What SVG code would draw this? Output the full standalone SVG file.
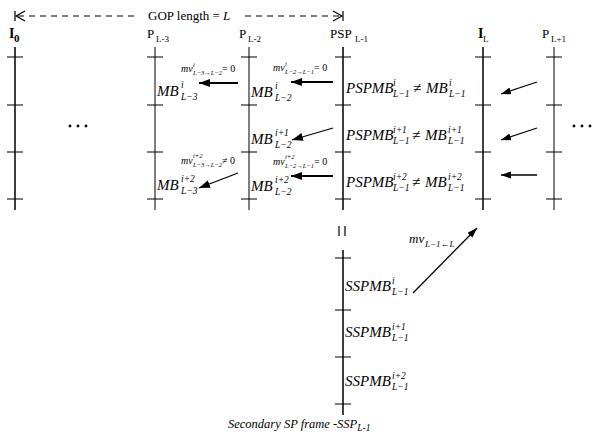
<svg xmlns="http://www.w3.org/2000/svg" width="604" height="439" viewBox="0 0 604 439" font-family="'Liberation Serif', 'DejaVu Serif', serif">
<style>
.bg{fill:#fff}
.fr{stroke:#000;stroke-width:1.5;fill:none}
.frg{stroke:#555;stroke-width:1.5;fill:none}
.tk{stroke:#000;stroke-width:1.2}
.ar{stroke:#000;stroke-width:2;fill:none}
.ad{stroke:#000;stroke-width:1.3;fill:none}
.dash{stroke:#000;stroke-width:1.2;stroke-dasharray:6 5;fill:none}
text{font-family:'Liberation Serif','DejaVu Serif',serif;fill:#000}
.hd{font-size:13px}
.hb{font-size:14px;font-weight:bold}
.hs{font-size:9px}
.m{font-size:15px;font-style:italic}
.s{font-size:9.5px;font-style:italic}
.r{font-size:15px}
.mv{font-size:10px;font-style:italic}
.ms{font-size:6.5px;font-style:italic}
.mr{font-size:10px}
.mvb{font-size:13px;font-style:italic}
.msb{font-size:9px;font-style:italic}
.cap{font-size:12.5px;font-style:italic}
.dot{fill:#000}
</style>
<defs>
<marker id="ah" markerUnits="userSpaceOnUse" markerWidth="12" markerHeight="10" refX="11" refY="4" orient="auto">
<path d="M0,0 L11,4 L0,8 Z" fill="#000"/>
</marker>
<marker id="ahs" markerUnits="userSpaceOnUse" markerWidth="11" markerHeight="8" refX="10" refY="3.5" orient="auto">
<path d="M0,0 L10,3.5 L0,7 Z" fill="#000"/>
</marker>
</defs>
<rect class="bg" x="0" y="0" width="604" height="439"/>

<g id="gop">
<line class="tk" x1="15" y1="11" x2="15" y2="21"/>
<path class="tk" fill="none" d="M25,11 L16,16 L25,21"/>
<line class="dash" x1="18" y1="16" x2="134" y2="16"/>
<text class="hd" x="148" y="20">GOP length = <tspan font-style="italic">L</tspan></text>
<line class="dash" x1="245" y1="16" x2="340" y2="16"/>
<path class="tk" fill="none" d="M333,11 L342,16 L333,21"/>
<line class="tk" x1="343" y1="11" x2="343" y2="21"/>
</g>

<g id="frame-I0">
<text class="hb" x="9" y="38">I</text><text class="hb" x="14" y="42" style="font-size:11px">0</text>
<line class="fr" x1="15" y1="47" x2="15" y2="210"/>
<path class="tk" d="M7,57H23M7,105H23M7,152H23M7,199H23"/>
</g>

<g id="dots-left">
<circle class="dot" cx="70" cy="126" r="1.4"/><circle class="dot" cx="78" cy="126" r="1.4"/><circle class="dot" cx="86" cy="126" r="1.4"/>
</g>

<g id="frame-PL3">
<text class="hd" x="147" y="38">P</text><text class="hs" x="156" y="42">L-3</text>
<line class="frg" x1="155" y1="47" x2="155" y2="210"/>
<path class="tk" d="M147,57H163M147,105H163M147,152H163M147,199H163"/>
<text class="m" x="157" y="96">MB</text><text class="s" x="181" y="88">i</text><text class="s" x="181" y="100">L−3</text>
<text class="m" x="157" y="190">MB</text><text class="s" x="181" y="182">i+2</text><text class="s" x="181" y="194">L−3</text>
</g>

<g id="frame-PL2">
<text class="hd" x="239" y="38">P</text><text class="hs" x="248" y="42">L-2</text>
<line class="frg" x1="249" y1="47" x2="249" y2="210"/>
<path class="tk" d="M241,57H257M241,105H257M241,152H257M241,199H257"/>
<text class="m" x="251" y="97">MB</text><text class="s" x="275" y="89">i</text><text class="s" x="275" y="101">L−2</text>
<text class="m" x="251" y="144">MB</text><text class="s" x="275" y="136">i+1</text><text class="s" x="275" y="148">L−2</text>
<text class="m" x="251" y="191">MB</text><text class="s" x="275" y="183">i+2</text><text class="s" x="275" y="195">L−2</text>
</g>

<g id="frame-PSP">
<text class="hd" x="330" y="38">PSP</text><text class="hs" x="355" y="42">L-1</text>
<line class="fr" x1="343" y1="47" x2="343" y2="210"/>
<path class="tk" d="M335,57H351M335,105H351M335,152H351M335,199H351"/>
<text class="m" x="346" y="93">PSPMB</text><text class="s" x="393" y="86">i</text><text class="s" x="393" y="97">L−1</text>
<text class="r" x="413" y="93">≠</text>
<text class="m" x="426" y="93">MB</text><text class="s" x="449" y="86">i</text><text class="s" x="449" y="97">L−1</text>
<text class="m" x="346" y="140">PSPMB</text><text class="s" x="393" y="133">i+1</text><text class="s" x="393" y="144">L−1</text>
<text class="r" x="412" y="140">≠</text>
<text class="m" x="425" y="140">MB</text><text class="s" x="448" y="133">i+1</text><text class="s" x="448" y="144">L−1</text>
<text class="m" x="346" y="187">PSPMB</text><text class="s" x="393" y="180">i+2</text><text class="s" x="393" y="191">L−1</text>
<text class="r" x="412" y="187">≠</text>
<text class="m" x="425" y="187">MB</text><text class="s" x="448" y="180">i+2</text><text class="s" x="448" y="191">L−1</text>
<path class="tk" d="M339,226V236M345,226V236"/>
</g>

<g id="frame-IL">
<text class="hb" x="478" y="38">I</text><text class="hs" x="483" y="42">L</text>
<line class="fr" x1="483" y1="47" x2="483" y2="210"/>
<path class="tk" d="M475,57H491M475,105H491M475,152H491M475,199H491"/>
</g>

<g id="frame-PL1">
<text class="hd" x="542" y="38">P</text><text class="hs" x="551" y="42">L+1</text>
<line class="frg" x1="554" y1="47" x2="554" y2="210"/>
<path class="tk" d="M546,57H562M546,105H562M546,152H562M546,199H562"/>
</g>

<g id="dots-right">
<circle class="dot" cx="574" cy="126" r="1.4"/><circle class="dot" cx="582" cy="126" r="1.4"/><circle class="dot" cx="590" cy="126" r="1.4"/>
</g>

<g id="frame-SSP">
<line class="fr" x1="343" y1="250" x2="343" y2="415"/>
<path class="tk" d="M335,258H351M335,310H351M335,357H351M335,404H351"/>
<text class="m" x="345" y="291">SSPMB</text><text class="s" x="392" y="284">i</text><text class="s" x="392" y="295">L−1</text>
<text class="m" x="345" y="337">SSPMB</text><text class="s" x="392" y="330">i+1</text><text class="s" x="392" y="341">L−1</text>
<text class="m" x="345" y="386">SSPMB</text><text class="s" x="392" y="379">i+2</text><text class="s" x="392" y="390">L−1</text>
<text class="cap" x="228" y="428">Secondary SP frame -SSP<tspan style="font-size:9.5px" dy="3">L-1</tspan></text>
</g>

<g id="connectors">
<line class="ar" x1="238" y1="83" x2="199" y2="83" marker-end="url(#ah)"/>
<line class="ad" x1="238" y1="173" x2="199" y2="188" marker-end="url(#ah)"/>
<line class="ar" x1="333" y1="82" x2="291" y2="82" marker-end="url(#ah)"/>
<line class="ad" x1="333" y1="128" x2="292" y2="140" marker-end="url(#ah)"/>
<line class="ar" x1="333" y1="176" x2="291" y2="176" marker-end="url(#ah)"/>
<line class="ad" x1="537" y1="82" x2="501" y2="94" marker-end="url(#ahs)"/>
<line class="ad" x1="537" y1="128" x2="501" y2="140" marker-end="url(#ahs)"/>
<line class="ad" x1="537" y1="175" x2="501" y2="175" marker-end="url(#ahs)"/>
<line class="ad" x1="413" y1="293" x2="477" y2="228" marker-end="url(#ahs)"/>
</g>

<g id="mv-labels">
<text class="mv" x="181" y="72">mv</text><text class="ms" x="193" y="67">i</text><text class="ms" x="193" y="75">L−3→L−2</text><text class="mr" x="222" y="72">= 0</text>
<text class="mv" x="181" y="164">mv</text><text class="ms" x="193" y="158">i+2</text><text class="ms" x="193" y="167">L−3→L−2</text><text class="mr" x="222" y="164">≠ 0</text>
<text class="mv" x="273" y="71">mv</text><text class="ms" x="285" y="66">i</text><text class="ms" x="285" y="74">L−2→L−1</text><text class="mr" x="314" y="71">= 0</text>
<text class="mv" x="273" y="165">mv</text><text class="ms" x="285" y="159">i+2</text><text class="ms" x="285" y="168">L−2→L−1</text><text class="mr" x="314" y="165">= 0</text>
<text class="mvb" x="409" y="243">mv</text><text class="msb" x="425" y="247">L−1←L</text>
</g>
</svg>
